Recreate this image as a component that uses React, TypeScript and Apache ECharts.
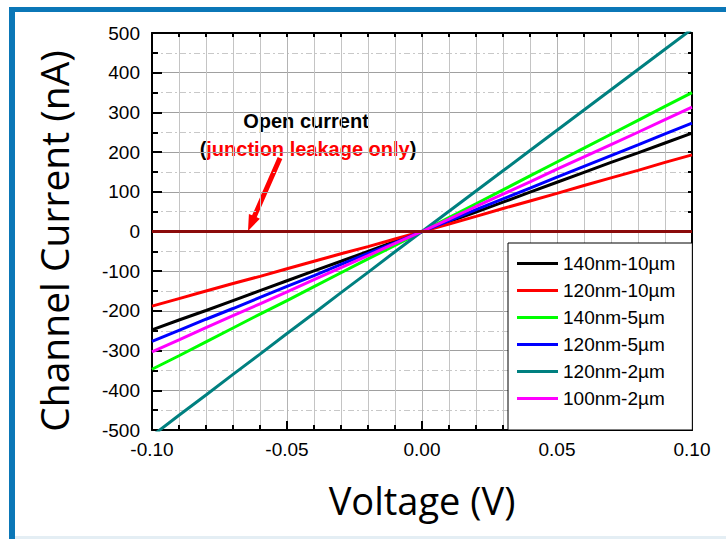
import React, { useEffect, useRef } from "react";
import * as echarts from "echarts";

const voltages = [-0.10, -0.09, -0.08, -0.07, -0.06, -0.05, -0.04, -0.03, -0.02, -0.01, 0.00, 0.01, 0.02, 0.03, 0.04, 0.05, 0.06, 0.07, 0.08, 0.09, 0.10];

const names = ["140nm-10µm", "120nm-10µm", "140nm-5µm", "120nm-5µm", "120nm-2µm", "100nm-2µm"];
const colors = ["#000000", "#ff0000", "#00ff00", "#0000ff", "#008080", "#ff00ff"];

const i140_10 = [-248, -223, -199, -174, -149, -124, -99, -75, -50, -25, 0, 25, 49, 74, 99, 124, 149, 174, 198, 223, 248];
const i120_10 = [-188, -169, -150, -131, -113, -94, -75, -56, -38, -19, 0, 19, 38, 58, 77, 96, 116, 135, 154, 174, 193];
const i140_5 = [-347, -313, -278, -243, -208, -174, -139, -104, -69, -35, 0, 35, 70, 105, 140, 175, 210, 245, 280, 315, 350];
const i120_5 = [-277, -249, -221, -194, -166, -138, -111, -83, -55, -28, 0, 27, 55, 82, 109, 137, 164, 191, 218, 246, 273];
const i120_2 = [-515, -463, -412, -360, -309, -257, -206, -154, -103, -51, 0, 51, 102, 153, 204, 255, 306, 357, 408, 459, 510];
const i100_2 = [-303, -273, -242, -212, -182, -152, -121, -91, -61, -30, 0, 31, 63, 94, 125, 157, 188, 219, 250, 282, 313];
const openCurrent = [0, 0, 0, 0, 0, 0, 0, 0, 0, 0, 0, 0, 0, 0, 0, 0, 0, 0, 0, 0, 0];

const seriesValues = [i140_10, i120_10, i140_5, i120_5, i120_2, i100_2];

const yTitle = "Channel Current (nA)";
const xTitle = "Voltage (V)";

export default function App() {
  const ref = useRef<HTMLDivElement>(null);
  useEffect(() => {
    if (!ref.current) return;
    const chart = echarts.init(ref.current, undefined, { renderer: "svg" });
    const pair = (arr: number[]) => voltages.map((v, i) => [v, arr[i]]);
    const labelFont = { fontFamily: "Liberation Sans", fontSize: 19, color: "#000" };
    const option: any = {
      animation: false,
      backgroundColor: "#ffffff",
      grid: { left: 152, top: 33, right: 34, bottom: 109 },
      xAxis: [
        {
          type: "value", min: -0.1, max: 0.1, interval: 0.05,
          axisLine: { show: true, onZero: false, lineStyle: { color: "#000", width: 2 } },
          axisTick: { show: true, inside: true, length: 9, lineStyle: { color: "#000", width: 2 } },
          minorTick: { show: true, splitNumber: 5, length: 5, lineStyle: { color: "#000", width: 2 } },
          splitLine: { show: true, lineStyle: { color: "#b4b4b4", width: 1 } },
          minorSplitLine: { show: true, lineStyle: { color: "#c4c4c4", width: 1 } },
          axisLabel: { ...labelFont, margin: 10, formatter: (v: number) => v.toFixed(2) },
        },
        {
          type: "value", position: "top", min: -0.1, max: 0.1, interval: 0.05,
          axisLine: { show: true, onZero: false, lineStyle: { color: "#000", width: 2 } },
          axisTick: { show: true, inside: true, length: 4, lineStyle: { color: "#000", width: 2 } },
          minorTick: { show: true, splitNumber: 5, length: 4, lineStyle: { color: "#000", width: 2 } },
          splitLine: { show: false },
          axisLabel: { show: false },
        },
      ],
      yAxis: [
        {
          type: "value", min: -500, max: 500, interval: 100,
          axisLine: { show: true, onZero: false, lineStyle: { color: "#000", width: 2 } },
          axisTick: { show: true, inside: true, length: 10, lineStyle: { color: "#000", width: 2 } },
          minorTick: { show: true, splitNumber: 2, length: 6, lineStyle: { color: "#000", width: 2 } },
          splitLine: { show: true, lineStyle: { color: "#a0a0a0", width: 1 } },
          minorSplitLine: { show: true, lineStyle: { color: "#c8c8c8", width: 1, type: [6, 3, 2, 3] } },
          axisLabel: { ...labelFont, margin: 12 },
        },
        {
          type: "value", position: "right", min: -500, max: 500, interval: 100,
          axisLine: { show: true, onZero: false, lineStyle: { color: "#000", width: 2 } },
          axisTick: { show: true, inside: true, length: 4, lineStyle: { color: "#000", width: 2 } },
          minorTick: { show: true, splitNumber: 2, length: 4, lineStyle: { color: "#000", width: 2 } },
          splitLine: { show: false },
          axisLabel: { show: false },
        },
      ],
      legend: {
        data: names,
        orient: "vertical",
        left: 508,
        top: 243,
        backgroundColor: "#ffffff",
        borderColor: "#000000",
        borderWidth: 1,
        borderRadius: 0,
        padding: [11, 17, 22, 9],
        itemWidth: 41,
        itemHeight: 3,
        itemGap: 8,
        icon: "rect",
        textStyle: { fontFamily: "Liberation Sans", fontSize: 19, color: "#000" },
      },
      series: [
        ...seriesValues.map((arr, k) => ({
          name: names[k],
          type: "line",
          data: pair(arr),
          showSymbol: false,
          symbol: "none",
          color: colors[k],
          lineStyle: { color: colors[k], width: 3 },
          clip: true,
          z: 2,
        })),
        {
          name: "Open current",
          type: "line",
          data: pair(openCurrent),
          showSymbol: false,
          symbol: "none",
          color: "#8b0a0a",
          lineStyle: { color: "#8b0a0a", width: 3 },
          z: 3,
        },
      ],
      graphic: [
        { type: "rect", shape: { x: 9, y: 7, width: 717, height: 5 }, style: { fill: "#0b77b7" }, silent: true },
        { type: "rect", shape: { x: 9, y: 7, width: 6, height: 532 }, style: { fill: "#0b77b7" }, silent: true },
        { type: "rect", shape: { x: 15, y: 536, width: 711, height: 3 }, style: { fill: "#e4eef4" }, silent: true },
        {
          type: "text", x: 53, y: 241, rotation: Math.PI / 2,
          style: { text: yTitle, fontFamily: "Open Sans", fontSize: 39, fill: "#000", textAlign: "center", textVerticalAlign: "middle", align: "center", verticalAlign: "middle" },
        },
        {
          type: "text", x: 422, y: 500,
          style: { text: xTitle, fontFamily: "Open Sans", fontSize: 38, fill: "#000", textAlign: "center", textVerticalAlign: "middle", align: "center", verticalAlign: "middle" },
        },
        {
          type: "text", x: 306, y: 121,
          style: { text: "Open current", fontFamily: "Liberation Sans", fontSize: 20, fontWeight: "bold", fill: "#000", textAlign: "center", textVerticalAlign: "middle", align: "center", verticalAlign: "middle" },
        },
        {
          type: "text", x: 308, y: 149,
          style: {
            text: "{k|(}{r|junction leakage only}{k|)}",
            fontFamily: "Liberation Sans", fontSize: 20, fontWeight: "bold",
            textAlign: "center", textVerticalAlign: "middle", align: "center", verticalAlign: "middle",
            rich: {
              k: { fill: "#000", fontFamily: "Liberation Sans", fontSize: 20, fontWeight: "bold" },
              r: { fill: "#ff0000", fontFamily: "Liberation Sans", fontSize: 20, fontWeight: "bold" },
            },
          },
        },
        {
          type: "polygon",
          shape: { points: [[282.3, 159.0], [256.7, 217.3], [259.9, 218.7], [248, 231], [248.9, 213.9], [252.1, 215.3], [277.7, 157.0]] },
          style: { fill: "#ff0000" },
          silent: true,
        },
      ],
    };
    chart.setOption(option);
    return () => chart.dispose();
  }, []);
  return <div ref={ref} style={{ position: "absolute", left: 0, top: 0, width: 726, height: 539 }} />;
}
